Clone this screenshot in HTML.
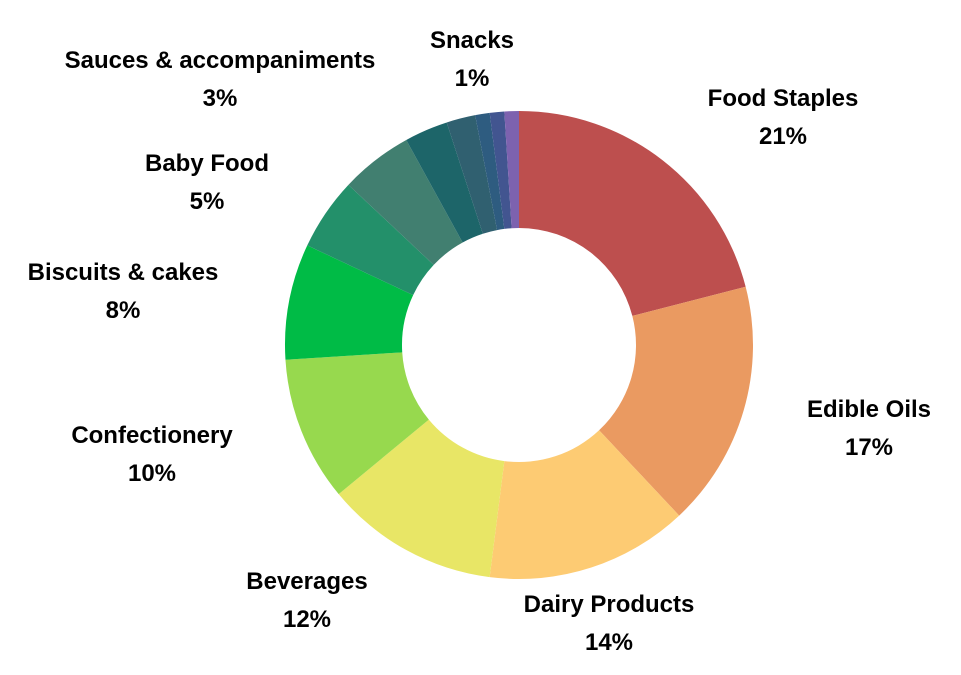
<!DOCTYPE html>
<html><head><meta charset="utf-8"><style>
html,body{margin:0;padding:0;background:#fff;}
svg{display:block;}
text{font-family:"Liberation Sans",Arial,sans-serif;font-weight:bold;font-size:24px;fill:#000;}
</style></head><body>
<svg id="chart" width="961" height="675" viewBox="0 0 961 675">
<g id="slices"></g>
<g id="labels"></g>
</svg>
<script>
const categories = ["Food Staples","Edible Oils","Dairy Products","Beverages","Confectionery","Biscuits & cakes","Baby Food","Sauces & accompaniments","Other 1","Other 2","Other 3","Other 4","Snacks"];
const values = [21,17,14,12,10,8,5,5,3,2,1,1,1];
const labelTexts = ["21%","17%","14%","12%","10%","8%","5%","","3%","","","","1%"];
const colors = ["#BD4F4E","#EA9A61","#FDCB73","#E8E666","#97D94E","#00BB46","#23906A","#417F70","#1D6569","#306070","#2E5C80","#425590","#7D62AF"];
const labelPos = {
  "Food Staples":[783,98],"Edible Oils":[869,409],"Dairy Products":[609,604],"Beverages":[307,581],
  "Confectionery":[152,435],"Biscuits & cakes":[123,272],"Baby Food":[207,163],
  "Sauces & accompaniments":[220,60],"Snacks":[472,40]
};
const labelName = {"Biscuits & cakes":5,"Baby Food":6,"Sauces & accompaniments":8,"Snacks":12};
const cx=519, cy=345, R=234, r=117;
const NS="http://www.w3.org/2000/svg";
const total = values.reduce((a,b)=>a+b,0);
function pt(a,rad){return [cx+rad*Math.sin(a), cy-rad*Math.cos(a)];}
const gS=document.getElementById('slices');
let acc=0;
values.forEach((v,i)=>{
  const a0=acc/total*2*Math.PI; acc+=v; const a1=acc/total*2*Math.PI;
  const large=(a1-a0)>Math.PI?1:0;
  const p0=pt(a0,R),p1=pt(a1,R),q1=pt(a1,r),q0=pt(a0,r);
  const p=document.createElementNS(NS,'path');
  p.setAttribute('d',`M${p0[0]},${p0[1]} A${R},${R} 0 ${large} 1 ${p1[0]},${p1[1]} L${q1[0]},${q1[1]} A${r},${r} 0 ${large} 0 ${q0[0]},${q0[1]} Z`);
  p.setAttribute('fill',colors[i]);
  
  
  gS.appendChild(p);
});
const gL=document.getElementById('labels');
Object.keys(labelPos).forEach(name=>{
  const idx = labelName[name]!==undefined ? labelName[name] : categories.indexOf(name);
  const [x,y]=labelPos[name];
  const t1=document.createElementNS(NS,'text');
  t1.setAttribute('x',x);t1.setAttribute('y',y+8);t1.setAttribute('text-anchor','middle');
  t1.textContent=name;
  
  
  gL.appendChild(t1);
  const t2=document.createElementNS(NS,'text');
  t2.setAttribute('x',x);t2.setAttribute('y',y+46);t2.setAttribute('text-anchor','middle');
  t2.textContent=labelTexts[idx] || (values[idx]+'%');
  
  
  gL.appendChild(t2);
});
</script>
</body></html>
